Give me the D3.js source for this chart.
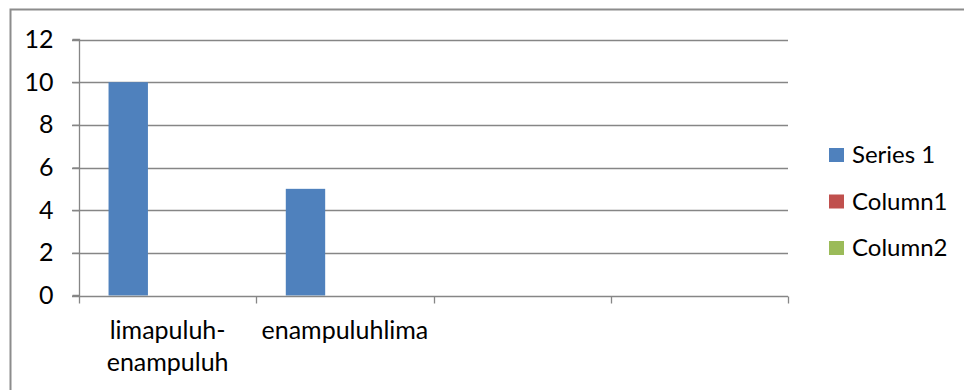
<!DOCTYPE html>
<html>
<head>
<meta charset="utf-8">
<script src="https://cdn.jsdelivr.net/npm/d3@7"></script>
<style>
  body { margin: 0; background: #fff; }
  svg text { font-family: Lato, "Liberation Sans", sans-serif; fill: #000; }
</style>
</head>
<body>
<div id="chart"></div>
<script>
// chart values
let categories = [["limapuluh-", "enampuluh"], ["enampuluhlima"], [""], [""]];
let seriesNames = ["Series 1", "Column1", "Column2"];
let series1 = [10, 5, null, null];
let column1 = [null, null, null, null];
let column2 = [null, null, null, null];
let yTicks = [0, 2, 4, 6, 8, 10, 12];
let colors = ["#4f81bd", "#c0504d", "#9bbb59"];

let width = 964, height = 390;
let margin = {left: 79, right: 176, top: 39.5, bottom: 94.5};
let fontSize = 25;

let svg = d3.select("#chart").append("svg")
    .attr("width", width)
    .attr("height", height);

// outer chart frame (runs off the right / bottom edge)
svg.append("rect")
    .attr("x", 10.5).attr("y", 9.5)
    .attr("width", 1000).attr("height", 500)
    .attr("fill", "none")
    .attr("stroke", "#8c8c8c")
    .attr("stroke-width", 2);

let x0 = d3.scaleBand()
    .domain(d3.range(categories.length))
    .range([margin.left, width - margin.right])
    .paddingInner(0).paddingOuter(0);

let x1 = d3.scaleBand()
    .domain(seriesNames)
    .range([0, x0.bandwidth()])
    .paddingInner(0).paddingOuter(0.75);

let y = d3.scaleLinear()
    .domain([0, 12])
    .range([height - margin.bottom, margin.top]);

// gridlines
svg.append("g")
    .selectAll("line")
    .data(yTicks.filter(d => d > 0))
    .join("line")
    .attr("x1", margin.left - 7)
    .attr("x2", width - margin.right)
    .attr("y1", d => Math.round(y(d)) + 0.5)
    .attr("y2", d => Math.round(y(d)) + 0.5)
    .attr("stroke", "#868686")
    .attr("stroke-width", 1.3);

// bars
let table = seriesNames.map((s, i) => ({
    name: s,
    color: colors[i],
    values: [series1, column1, column2][i]
}));

svg.append("g")
    .selectAll("g")
    .data(table)
    .join("g")
    .attr("fill", d => d.color)
    .selectAll("rect")
    .data(d => d.values.map((v, i) => ({name: d.name, cat: i, value: v})).filter(e => e.value != null))
    .join("rect")
    .attr("x", d => x0(d.cat) + x1(d.name))
    .attr("width", x1.bandwidth())
    .attr("y", d => y(d.value))
    .attr("height", d => y(0) - y(d.value));

// y axis
let yAxis = svg.append("g")
    .attr("transform", `translate(${margin.left + 0.5},0)`)
    .call(d3.axisLeft(y).tickValues(yTicks).tickSize(7).tickPadding(19).tickFormat(d3.format("d")));
yAxis.selectAll("path, line").attr("stroke", "#868686").attr("stroke-width", 1.3);
yAxis.select(".domain").attr("d", `M-7,${y(0)}H0V${y(12)}H-7`);
yAxis.selectAll("text").attr("font-size", fontSize).attr("fill", "#000").attr("font-family", null);

// x axis
let xAxisG = svg.append("g")
    .attr("transform", `translate(0,${Math.round(y(0)) + 0.5})`);
xAxisG.append("line")
    .attr("x1", margin.left - 7).attr("x2", width - margin.right)
    .attr("stroke", "#868686").attr("stroke-width", 1.3);
let bounds = x0.domain().map(d => x0(d)).concat([x0.range()[1]]);
xAxisG.selectAll(".bt")
    .data(bounds)
    .join("line")
    .attr("class", "bt")
    .attr("x1", d => Math.round(d) + 0.5).attr("x2", d => Math.round(d) + 0.5)
    .attr("y1", 0).attr("y2", 7)
    .attr("stroke", "#868686").attr("stroke-width", 1.3);

let catLabels = xAxisG.selectAll(".cl")
    .data(categories)
    .join("text")
    .attr("class", "cl")
    .attr("text-anchor", "middle")
    .attr("font-size", fontSize)
    .attr("transform", (d, i) => `translate(${x0(i) + x0.bandwidth() / 2},42)`);
catLabels.selectAll("tspan")
    .data(d => d)
    .join("tspan")
    .attr("x", 0)
    .attr("y", (d, i) => i * 32)
    .text(d => d);

// legend
let legend = svg.append("g")
    .attr("transform", "translate(829,155)");
let items = legend.selectAll("g")
    .data(table)
    .join("g")
    .attr("transform", (d, i) => `translate(0,${i * 46.5})`);
items.append("rect")
    .attr("x", 0).attr("y", -7)
    .attr("width", 15).attr("height", 14)
    .attr("fill", d => d.color);
items.append("text")
    .attr("x", 23)
    .attr("dy", "0.35em")
    .attr("font-size", 24)
    .text(d => d.name);
</script>
</body>
</html>
